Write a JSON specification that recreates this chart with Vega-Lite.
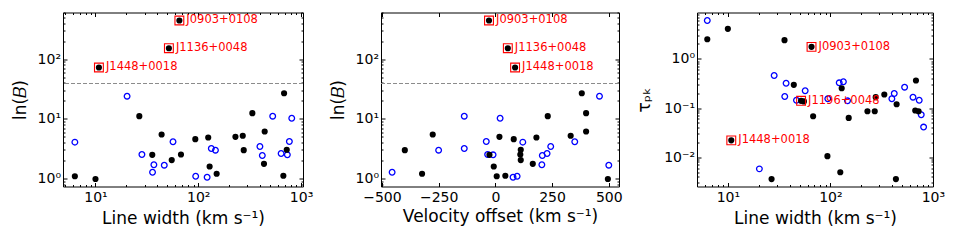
{
  "$schema": "https://vega.github.io/schema/vega-lite/v6.json",
  "autosize": {"type": "pad"},
  "padding": {"left": 10, "top": 4.5, "right": 0, "bottom": 0},
  "background": "white",
  "spacing": 78,
  "bounds": "flush",
  "config": {
    "view": {"stroke": "#000", "strokeWidth": 1},
    "font": "DejaVu Sans",
    "axis": {
      "grid": false, "domain": false, "tickColor": "#000", "tickWidth": 1,
      "labelColor": "#000", "titleColor": "#000",
      "labelFont": "DejaVu Sans", "titleFont": "DejaVu Sans",
      "labelFontSize": 14, "titleFontSize": 17, "titleFontWeight": "normal",
      "labelOverlap": false, "labelFlush": false, "labelBound": false
    }
  },
  "data": {"values": [
    {"t": "f", "w": 6.3, "v": 6, "b": 1.09, "tau": 2.5},
    {"t": "f", "w": 10, "v": 496, "b": 0.98, "tau": 4.07},
    {"t": "f", "w": 26.7, "v": 231, "b": 11.06, "tau": 0.0036},
    {"t": "f", "w": 44, "v": -276, "b": 5.46, "tau": 0.296},
    {"t": "f", "w": 35.7, "v": -26, "b": 2.49, "tau": 2.39},
    {"t": "f", "w": 55.2, "v": 112, "b": 2.03, "tau": 0.136},
    {"t": "f", "w": 67.9, "v": 110, "b": 2.52, "tau": 0.068},
    {"t": "f", "w": 93.6, "v": 81, "b": 4.55, "tau": 0.0105},
    {"t": "f", "w": 125, "v": 181, "b": 4.86, "tau": 0.00495},
    {"t": "f", "w": 129, "v": -7, "b": 1.59, "tau": 0.252},
    {"t": "f", "w": 151, "v": -323, "b": 1.2, "tau": 0.063},
    {"t": "f", "w": 230, "v": 18, "b": 4.99, "tau": 0.086},
    {"t": "f", "w": 271, "v": 332, "b": 5.19, "tau": 0.086},
    {"t": "f", "w": 277, "v": -399, "b": 2.98, "tau": 0.166},
    {"t": "f", "w": 336, "v": 400, "b": 12.4, "tau": 0.188},
    {"t": "f", "w": 443, "v": 400, "b": 6.13, "tau": 0.119},
    {"t": "f", "w": 436, "v": 165, "b": 1.76, "tau": 0.0036},
    {"t": "f", "w": 684, "v": 381, "b": 26.8, "tau": 0.362},
    {"t": "f", "w": 673, "v": 44, "b": 1.11, "tau": 0.089},
    {"t": "f", "w": 726, "v": 112, "b": 3.03, "tau": 0.086},
    {"t": "f", "n": "J0903+0108", "nt": "J0903+0108", "w": 65.5, "v": -28, "b": 443, "tau": 1.75},
    {"t": "f", "n": "J1136+0048", "nt": "J1196+0048", "w": 51.8, "v": 55, "b": 152, "tau": 0.14},
    {"t": "f", "n": "J1448+0018", "nt": "J1448+0018", "w": 10.8, "v": 87, "b": 72.3, "tau": 0.022},
    {"t": "o", "w": 6.3, "v": 121, "b": 4.06, "tau": 6.0},
    {"t": "o", "w": 20.3, "v": 459, "b": 23.9, "tau": 0.0058},
    {"t": "o", "w": 28.3, "v": -34, "b": 2.52, "tau": 0.458},
    {"t": "o", "w": 37, "v": 205, "b": 1.7, "tau": 0.319},
    {"t": "o", "w": 35.9, "v": -455, "b": 1.27, "tau": 0.171},
    {"t": "o", "w": 46.7, "v": 500, "b": 1.67, "tau": 0.144},
    {"t": "o", "w": 56.8, "v": 350, "b": 4.12, "tau": 0.224},
    {"t": "o", "w": 94.4, "v": 96, "b": 1.09, "tau": 0.154},
    {"t": "o", "w": 122, "v": 78, "b": 1.05, "tau": 0.325},
    {"t": "o", "w": 134, "v": -137, "b": 3.18, "tau": 0.341},
    {"t": "o", "w": 147, "v": -250, "b": 2.98, "tau": 0.14},
    {"t": "o", "w": 398, "v": 244, "b": 3.44, "tau": 0.154},
    {"t": "o", "w": 420, "v": 207, "b": 2.43, "tau": 0.197},
    {"t": "o", "w": 530, "v": -137, "b": 11.06, "tau": 0.265},
    {"t": "o", "w": 640, "v": 228, "b": 2.62, "tau": 0.166},
    {"t": "o", "w": 736, "v": -10, "b": 2.49, "tau": 0.144},
    {"t": "o", "w": 770, "v": -40, "b": 4.17, "tau": 0.073},
    {"t": "o", "w": 812, "v": 21, "b": 10.2, "tau": 0.041}
  ]},
  "hconcat": [
    {
      "width": 240, "height": 174,
      "resolve": {"axis": {"x": "independent", "y": "independent"}},
      "layer": [
        {
          "transform": [{"filter": "datum.t == 'o'"}],
          "mark": {"type": "point", "shape": "circle", "filled": false, "stroke": "#0000ff", "strokeWidth": 1.3, "size": 32, "opacity": 1},
          "encoding": {
            "x": {"field": "w", "type": "quantitative", "scale": {"type": "log", "domain": [4.83, 1045], "nice": false},
              "axis": {"orient": "bottom", "title": "Line width (km s⁻¹)", "values": [5,6,7,8,9,10,20,30,40,50,60,70,80,90,100,200,300,400,500,600,700,800,900,1000],
                "labelExpr": "datum.value==1?'10⁰':datum.value==10?'10¹':datum.value==100?'10²':datum.value==1000?'10³':''",
                "tickSize": {"condition": {"test": "indexof([1,10,100,1000], datum.value) >= 0", "value": -4}, "value": -2},
                "labelPadding": 8, "titlePadding": 4}},
            "y": {"field": "b", "type": "quantitative", "scale": {"type": "log", "domain": [0.734, 603], "nice": false},
              "axis": {"orient": "left", "title": "ln(𝐵)", "values": [0.8,0.9,1,2,3,4,5,6,7,8,9,10,20,30,40,50,60,70,80,90,100,200,300,400,500,600],
                "labelExpr": "datum.value==1?'10⁰':datum.value==10?'10¹':datum.value==100?'10²':''",
                "tickSize": {"condition": {"test": "indexof([1,10,100], datum.value) >= 0", "value": -4}, "value": -2},
                "labelPadding": 6.5, "titlePadding": 8}}
          }
        },
        {
          "transform": [{"filter": "datum.t == 'f'"}],
          "mark": {"type": "circle", "color": "#000", "size": 38, "opacity": 1},
          "encoding": {
            "x": {"field": "w", "type": "quantitative", "scale": {"type": "log", "domain": [4.83, 1045], "nice": false}, "axis": null},
            "y": {"field": "b", "type": "quantitative", "scale": {"type": "log", "domain": [0.734, 603], "nice": false}, "axis": null}
          }
        },
        {
          "mark": {"type": "rule", "color": "#8c8c8c", "strokeDash": [4, 2], "strokeWidth": 1.2},
          "encoding": {"y": {"datum": 39, "type": "quantitative", "scale": {"type": "log", "domain": [0.734, 603], "nice": false}, "axis": null}}
        },
        {
          "transform": [{"filter": "isValid(datum.n)"}],
          "mark": {"type": "square", "filled": false, "stroke": "#ff0000", "strokeWidth": 1.1, "size": 78, "opacity": 1},
          "encoding": {
            "x": {"field": "w", "type": "quantitative", "scale": {"type": "log", "domain": [4.83, 1045], "nice": false},
              "axis": {"orient": "top", "title": null, "labels": false, "values": [5,6,7,8,9,10,20,30,40,50,60,70,80,90,100,200,300,400,500,600,700,800,900,1000],
                "tickSize": {"condition": {"test": "indexof([1,10,100,1000], datum.value) >= 0", "value": -4}, "value": -2}}},
            "y": {"field": "b", "type": "quantitative", "scale": {"type": "log", "domain": [0.734, 603], "nice": false},
              "axis": {"orient": "right", "title": null, "labels": false, "values": [0.8,0.9,1,2,3,4,5,6,7,8,9,10,20,30,40,50,60,70,80,90,100,200,300,400,500,600],
                "tickSize": {"condition": {"test": "indexof([1,10,100], datum.value) >= 0", "value": -4}, "value": -2}}}
          }
        },
        {
          "transform": [{"filter": "isValid(datum.n)"}],
          "mark": {"type": "text", "align": "left", "baseline": "middle", "dx": 7, "color": "#ff0000", "fontSize": 11.5, "font": "DejaVu Sans"},
          "encoding": {
            "x": {"field": "w", "type": "quantitative", "scale": {"type": "log", "domain": [4.83, 1045], "nice": false}, "axis": null},
            "y": {"field": "b", "type": "quantitative", "scale": {"type": "log", "domain": [0.734, 603], "nice": false}, "axis": null},
            "text": {"field": "n"}
          }
        }
      ]
    },
    {
      "width": 238, "height": 174,
      "resolve": {"axis": {"x": "independent", "y": "independent"}},
      "layer": [
        {
          "transform": [{"filter": "datum.t == 'o'"}],
          "mark": {"type": "point", "shape": "circle", "filled": false, "stroke": "#0000ff", "strokeWidth": 1.3, "size": 32, "opacity": 1},
          "encoding": {
            "x": {"field": "v", "type": "quantitative", "scale": {"domain": [-504, 545], "nice": false, "zero": false},
              "axis": {"orient": "bottom", "title": "Velocity offset (km s⁻¹)", "values": [-500, -250, 0, 250, 500], "tickSize": -4, "labelPadding": 8, "titlePadding": 4}},
            "y": {"field": "b", "type": "quantitative", "scale": {"type": "log", "domain": [0.734, 603], "nice": false},
              "axis": {"orient": "left", "title": "ln(𝐵)", "values": [0.8,0.9,1,2,3,4,5,6,7,8,9,10,20,30,40,50,60,70,80,90,100,200,300,400,500,600],
                "labelExpr": "datum.value==1?'10⁰':datum.value==10?'10¹':datum.value==100?'10²':''",
                "tickSize": {"condition": {"test": "indexof([1,10,100], datum.value) >= 0", "value": -4}, "value": -2},
                "labelPadding": 6.5, "titlePadding": 8}}
          }
        },
        {
          "transform": [{"filter": "datum.t == 'f'"}],
          "mark": {"type": "circle", "color": "#000", "size": 38, "opacity": 1},
          "encoding": {
            "x": {"field": "v", "type": "quantitative", "scale": {"domain": [-504, 545], "nice": false, "zero": false}, "axis": null},
            "y": {"field": "b", "type": "quantitative", "scale": {"type": "log", "domain": [0.734, 603], "nice": false}, "axis": null}
          }
        },
        {
          "mark": {"type": "rule", "color": "#8c8c8c", "strokeDash": [4, 2], "strokeWidth": 1.2},
          "encoding": {"y": {"datum": 39, "type": "quantitative", "scale": {"type": "log", "domain": [0.734, 603], "nice": false}, "axis": null}}
        },
        {
          "transform": [{"filter": "isValid(datum.n)"}],
          "mark": {"type": "square", "filled": false, "stroke": "#ff0000", "strokeWidth": 1.1, "size": 78, "opacity": 1},
          "encoding": {
            "x": {"field": "v", "type": "quantitative", "scale": {"domain": [-504, 545], "nice": false, "zero": false},
              "axis": {"orient": "top", "title": null, "labels": false, "values": [-500, -250, 0, 250, 500], "tickSize": -4}},
            "y": {"field": "b", "type": "quantitative", "scale": {"type": "log", "domain": [0.734, 603], "nice": false},
              "axis": {"orient": "right", "title": null, "labels": false, "values": [0.8,0.9,1,2,3,4,5,6,7,8,9,10,20,30,40,50,60,70,80,90,100,200,300,400,500,600],
                "tickSize": {"condition": {"test": "indexof([1,10,100], datum.value) >= 0", "value": -4}, "value": -2}}}
          }
        },
        {
          "transform": [{"filter": "isValid(datum.n)"}],
          "mark": {"type": "text", "align": "left", "baseline": "middle", "dx": 7, "color": "#ff0000", "fontSize": 11.5, "font": "DejaVu Sans"},
          "encoding": {
            "x": {"field": "v", "type": "quantitative", "scale": {"domain": [-504, 545], "nice": false, "zero": false}, "axis": null},
            "y": {"field": "b", "type": "quantitative", "scale": {"type": "log", "domain": [0.734, 603], "nice": false}, "axis": null},
            "text": {"field": "n"}
          }
        }
      ]
    },
    {
      "width": 236, "height": 174,
      "resolve": {"axis": {"x": "independent", "y": "independent"}},
      "layer": [
        {
          "transform": [{"filter": "datum.t == 'o'"}],
          "mark": {"type": "point", "shape": "circle", "filled": false, "stroke": "#0000ff", "strokeWidth": 1.3, "size": 32, "opacity": 1},
          "encoding": {
            "x": {"field": "w", "type": "quantitative", "scale": {"type": "log", "domain": [5.0, 1003], "nice": false},
              "axis": {"orient": "bottom", "title": "Line width (km s⁻¹)", "values": [5,6,7,8,9,10,20,30,40,50,60,70,80,90,100,200,300,400,500,600,700,800,900,1000],
                "labelExpr": "datum.value==1?'10⁰':datum.value==10?'10¹':datum.value==100?'10²':datum.value==1000?'10³':''",
                "tickSize": {"condition": {"test": "indexof([1,10,100,1000], datum.value) >= 0", "value": -4}, "value": -2},
                "labelPadding": 8, "titlePadding": 4}},
            "y": {"field": "tau", "type": "quantitative", "scale": {"type": "log", "domain": [0.00254, 8.73], "nice": false},
              "axis": {"orient": "left", "title": "τₚₖ", "values": [0.003,0.004,0.005,0.006,0.007,0.008,0.009,0.01,0.02,0.03,0.04,0.05,0.06,0.07,0.08,0.09,0.1,0.2,0.3,0.4,0.5,0.6,0.7,0.8,0.9,1,2,3,4,5,6,7,8],
                "labelExpr": "datum.value==1?'10⁰':datum.value==0.1?'10⁻¹':datum.value==0.01?'10⁻²':''",
                "tickSize": {"condition": {"test": "indexof([0.01,0.1,1], datum.value) >= 0", "value": -4}, "value": -2},
                "labelPadding": 6.5, "titlePadding": 10}}
          }
        },
        {
          "transform": [{"filter": "datum.t == 'f'"}],
          "mark": {"type": "circle", "color": "#000", "size": 38, "opacity": 1},
          "encoding": {
            "x": {"field": "w", "type": "quantitative", "scale": {"type": "log", "domain": [5.0, 1003], "nice": false}, "axis": null},
            "y": {"field": "tau", "type": "quantitative", "scale": {"type": "log", "domain": [0.00254, 8.73], "nice": false}, "axis": null}
          }
        },
        {
          "transform": [{"filter": "isValid(datum.n)"}],
          "mark": {"type": "square", "filled": false, "stroke": "#ff0000", "strokeWidth": 1.1, "size": 78, "opacity": 1},
          "encoding": {
            "x": {"field": "w", "type": "quantitative", "scale": {"type": "log", "domain": [5.0, 1003], "nice": false},
              "axis": {"orient": "top", "title": null, "labels": false, "values": [5,6,7,8,9,10,20,30,40,50,60,70,80,90,100,200,300,400,500,600,700,800,900,1000],
                "tickSize": {"condition": {"test": "indexof([1,10,100,1000], datum.value) >= 0", "value": -4}, "value": -2}}},
            "y": {"field": "tau", "type": "quantitative", "scale": {"type": "log", "domain": [0.00254, 8.73], "nice": false},
              "axis": {"orient": "right", "title": null, "labels": false, "values": [0.003,0.004,0.005,0.006,0.007,0.008,0.009,0.01,0.02,0.03,0.04,0.05,0.06,0.07,0.08,0.09,0.1,0.2,0.3,0.4,0.5,0.6,0.7,0.8,0.9,1,2,3,4,5,6,7,8],
                "tickSize": {"condition": {"test": "indexof([0.01,0.1,1], datum.value) >= 0", "value": -4}, "value": -2}}}
          }
        },
        {
          "transform": [{"filter": "isValid(datum.n)"}],
          "mark": {"type": "text", "align": "left", "baseline": "middle", "dx": 7, "color": "#ff0000", "fontSize": 11.5, "font": "DejaVu Sans"},
          "encoding": {
            "x": {"field": "w", "type": "quantitative", "scale": {"type": "log", "domain": [5.0, 1003], "nice": false}, "axis": null},
            "y": {"field": "tau", "type": "quantitative", "scale": {"type": "log", "domain": [0.00254, 8.73], "nice": false}, "axis": null},
            "text": {"field": "nt"}
          }
        }
      ]
    }
  ]
}
